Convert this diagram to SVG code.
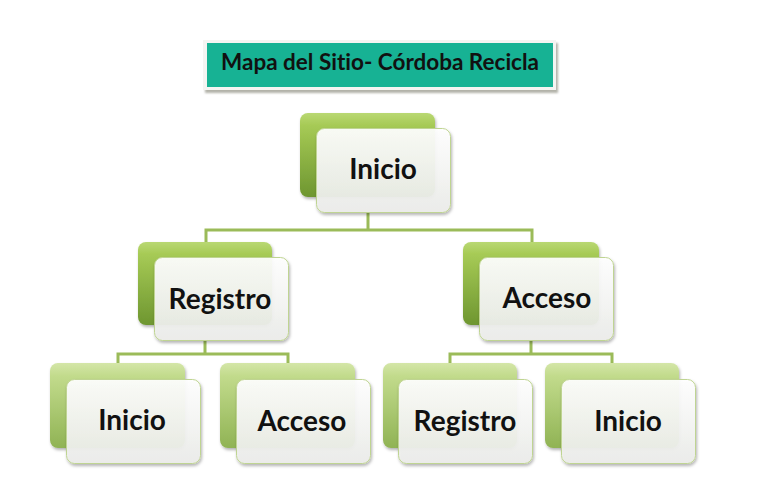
<svg xmlns="http://www.w3.org/2000/svg" width="774" height="489" viewBox="0 0 774 489">
<defs>
<linearGradient id="g1" x1="0" y1="0" x2="0" y2="1">
<stop offset="0" stop-color="#B9D873"/>
<stop offset="0.15" stop-color="#A6CA55"/>
<stop offset="1" stop-color="#6E9630"/>
</linearGradient>
<linearGradient id="g3" x1="0" y1="0" x2="0" y2="1">
<stop offset="0" stop-color="#D4E6A8"/>
<stop offset="0.15" stop-color="#C2DB8C"/>
<stop offset="1" stop-color="#90B354"/>
</linearGradient>
<linearGradient id="w" x1="0" y1="0" x2="0" y2="1">
<stop offset="0" stop-color="#FFFFFF"/>
<stop offset="1" stop-color="#ECEDEA"/>
</linearGradient>
<filter id="sh" x="-10%" y="-10%" width="125%" height="130%">
<feDropShadow dx="1" dy="2" stdDeviation="1.5" flood-color="#000" flood-opacity="0.3"/>
</filter>
<filter id="tsh" x="-5%" y="-10%" width="112%" height="130%">
<feDropShadow dx="2" dy="3" stdDeviation="1" flood-color="#808070" flood-opacity="0.6"/>
</filter>
</defs>
<style>
text{font-variant-ligatures:none;font-feature-settings:"liga" 0}
.gb{fill:url(#g1);filter:url(#sh)}
.gp{fill:url(#g3);filter:url(#sh)}
.wb{fill:url(#w);fill-opacity:0.93;stroke:#BFD492;stroke-width:1;filter:url(#sh)}
.lbl{font-family:Lato,"Liberation Sans",sans-serif;font-weight:700;font-size:28px;fill:#111;text-anchor:middle}
.con{fill:none;stroke:#9BBB59;stroke-width:3}
</style>
<rect width="774" height="489" fill="#fff"/>
<g id="title">
<rect x="203" y="40" width="353" height="50" fill="#F4F4F2" filter="url(#tsh)"/>
<rect x="207" y="43" width="346" height="44" fill="#17B294"/>
<text x="380" y="70" style="font-family:Lato,'Liberation Sans',sans-serif;font-weight:700;font-size:22.5px;fill:#111;text-anchor:middle">Mapa del Sitio- Córdoba Recicla</text>
</g>
<g id="connectors">
<path class="con" d="M368 212V230M206 243V230H532V243"/>
<path class="con" d="M205 340V354M118 364V354H288V364"/>
<path class="con" d="M531 340V354M450 364V354H612V364"/>
</g>
<g id="n-inicio">
<rect class="gb" x="300" y="113" width="135" height="84" rx="8"/>
<rect class="wb" x="316.5" y="128.5" width="134" height="84" rx="8"/>
<text class="lbl" x="383" y="179">Inicio</text>
</g>
<g id="n-registro">
<rect class="gb" x="138" y="242" width="134" height="83" rx="8"/>
<rect class="wb" x="154.5" y="257.5" width="134" height="83" rx="8"/>
<text class="lbl" x="220" y="309">Registro</text>
</g>
<g id="n-acceso">
<rect class="gb" x="463" y="242" width="136" height="83" rx="8"/>
<rect class="wb" x="479.5" y="257.5" width="134" height="83" rx="8"/>
<text class="lbl" x="547" y="308">Acceso</text>
</g>
<g id="n-registro-inicio">
<rect class="gp" x="50" y="363" width="135" height="85" rx="8"/>
<rect class="wb" x="66.5" y="379.5" width="134" height="84" rx="8"/>
<text class="lbl" x="132" y="430">Inicio</text>
</g>
<g id="n-registro-acceso">
<rect class="gp" x="220" y="363" width="135" height="85" rx="8"/>
<rect class="wb" x="236.5" y="379.5" width="134" height="84" rx="8"/>
<text class="lbl" x="302" y="431">Acceso</text>
</g>
<g id="n-acceso-registro">
<rect class="gp" x="383" y="363" width="134" height="85" rx="8"/>
<rect class="wb" x="398.5" y="379.5" width="134" height="84" rx="8"/>
<text class="lbl" x="465" y="431">Registro</text>
</g>
<g id="n-acceso-inicio">
<rect class="gp" x="545" y="363" width="134" height="85" rx="8"/>
<rect class="wb" x="561.5" y="379.5" width="134" height="84" rx="8"/>
<text class="lbl" x="628" y="431">Inicio</text>
</g>
</svg>
